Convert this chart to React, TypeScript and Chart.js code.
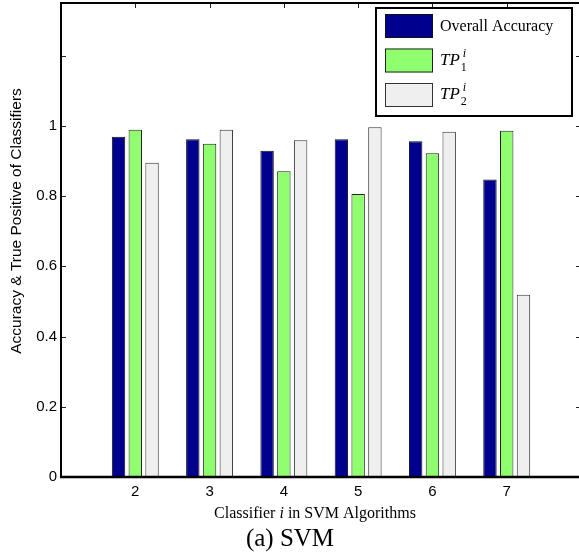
import React, { useEffect, useRef } from 'react';
import { Chart, registerables } from 'chart.js';

Chart.register(...registerables);

const classifiers = [2, 3, 4, 5, 6, 7];
const overallAccuracy = [0.969, 0.962, 0.929, 0.962, 0.956, 0.847];
const tp1 = [0.989, 0.949, 0.871, 0.806, 0.922, 0.986];
const tp2 = [0.895, 0.989, 0.959, 0.996, 0.983, 0.519];
const yTickValues = [0, 0.2, 0.4, 0.6, 0.8, 1, 1.2];
const yLabelledTicks = ['0', '0.2', '0.4', '0.6', '0.8', '1', ''];
const seriesNames = ['Overall Accuracy', 'TP', 'TP'];
const seriesColors = ['#00008F', '#8FFF70', '#EFEFEF'];
const seriesBorders = ['#111111', '#222222', '#333333'];
const seriesSub = ['', '1', '2'];

const SANS = '"Liberation Sans", Arial, sans-serif';
const SERIF = '"Liberation Serif", "Times New Roman", serif';

const decorPlugin = {
  id: 'decor',
  afterDatasetsDraw(chart: any) {
    const ctx = chart.ctx as CanvasRenderingContext2D;
    const { left, right, top, bottom } = chart.chartArea;
    const xs = chart.scales.x;
    const ys = chart.scales.y;
    ctx.save();
    // inward tick marks
    ctx.strokeStyle = '#222';
    ctx.lineWidth = 1;
    ctx.beginPath();
    yTickValues.forEach((v) => {
      const y = Math.round(ys.getPixelForValue(v)) + 0.5;
      ctx.moveTo(left, y);
      ctx.lineTo(left + 5, y);
      ctx.moveTo(right, y);
      ctx.lineTo(right - 5, y);
    });
    classifiers.forEach((c) => {
      const x = Math.round(xs.getPixelForValue(c)) + 0.5;
      ctx.moveTo(x, top);
      ctx.lineTo(x, top + 5);
    });
    ctx.stroke();
    // axes box
    ctx.strokeStyle = '#000';
    ctx.lineWidth = 2;
    ctx.beginPath();
    ctx.moveTo(left, bottom);
    ctx.lineTo(left, top);
    ctx.lineTo(right, top);
    ctx.lineTo(right, bottom);
    ctx.stroke();
    ctx.lineWidth = 2.5;
    ctx.beginPath();
    ctx.moveTo(left - 1, bottom);
    ctx.lineTo(right, bottom);
    ctx.stroke();

    // legend
    const lx = 376, ly = 8, lw = 196, lh = 108;
    ctx.fillStyle = '#fff';
    ctx.fillRect(lx, ly, lw, lh);
    ctx.strokeStyle = '#000';
    ctx.lineWidth = 2;
    ctx.strokeRect(lx, ly, lw, lh);
    const rowTops = [14, 48.5, 83];
    seriesNames.forEach((name, i) => {
      const sy = rowTops[i];
      ctx.fillStyle = seriesColors[i];
      ctx.fillRect(385, sy, 48, 24);
      ctx.strokeStyle = seriesBorders[i];
      ctx.lineWidth = 1;
      ctx.strokeRect(385.5, sy + 0.5, 47, 23);
      ctx.fillStyle = '#000';
      ctx.textBaseline = 'alphabetic';
      ctx.textAlign = 'left';
      const base = sy + 17;
      if (i === 0) {
        ctx.font = `16px ${SERIF}`;
        ctx.fillText(name, 440, base);
      } else {
        ctx.font = `italic 17px ${SERIF}`;
        ctx.fillText(name, 440, base - 1);
        const w = ctx.measureText(name).width;
        ctx.font = `italic 12px ${SERIF}`;
        ctx.fillText('i', 440 + w + 3, base - 9);
        ctx.font = `12px ${SERIF}`;
        ctx.fillText(seriesSub[i], 440 + w + 1, base + 5);
      }
    });

    // y axis title
    ctx.save();
    ctx.translate(17, 221);
    ctx.rotate(-Math.PI / 2);
    ctx.font = `15.5px ${SANS}`;
    ctx.fillStyle = '#000';
    ctx.textAlign = 'center';
    ctx.textBaseline = 'middle';
    ctx.fillText('Accuracy & True Positive of Classifiers', 0, 0);
    ctx.restore();

    // x axis title: "Classifier i in SVM Algorithms"
    ctx.fillStyle = '#000';
    ctx.textBaseline = 'alphabetic';
    ctx.textAlign = 'left';
    const p1 = 'Classifier ';
    const p2 = 'i';
    const p3 = ' in SVM Algorithms';
    ctx.font = `16px ${SERIF}`;
    const w1 = ctx.measureText(p1).width;
    const w3 = ctx.measureText(p3).width;
    ctx.font = `italic 16px ${SERIF}`;
    const w2 = ctx.measureText(p2).width;
    const total = w1 + w2 + w3;
    let tx = 315 - total / 2;
    ctx.font = `16px ${SERIF}`;
    ctx.fillText(p1, tx, 518);
    tx += w1;
    ctx.font = `italic 16px ${SERIF}`;
    ctx.fillText(p2, tx, 518);
    tx += w2;
    ctx.font = `16px ${SERIF}`;
    ctx.fillText(p3, tx, 518);

    // caption
    ctx.font = `25px ${SERIF}`;
    ctx.textAlign = 'center';
    ctx.fillText('(a) SVM', 290, 546);
    ctx.restore();
  },
};

export default function App() {
  const canvasRef = useRef<HTMLCanvasElement | null>(null);

  useEffect(() => {
    if (!canvasRef.current) return;
    const makeData = (vals: number[]) => classifiers.map((c, i) => ({ x: c, y: vals[i] }));
    const allSeries = [overallAccuracy, tp1, tp2];
    const chart = new Chart(canvasRef.current, {
      type: 'bar',
      data: {
        datasets: allSeries.map((vals, i) => ({
          label: seriesNames[i] + seriesSub[i],
          data: makeData(vals),
          backgroundColor: seriesColors[i],
          borderColor: seriesBorders[i],
          borderWidth: 1,
          categoryPercentage: 0.677,
          barPercentage: 0.8,
        })),
      },
      options: {
        responsive: false,
        animation: false,
        devicePixelRatio: 1,
        layout: { padding: { top: 3, right: 1, left: 0, bottom: 0 } },
        plugins: {
          legend: { display: false },
          tooltip: { enabled: false },
        },
        scales: {
          x: {
            type: 'linear',
            min: 1,
            max: 8,
            offset: false,
            grid: { display: false, drawTicks: false, offset: false },
            border: { display: false },
            afterBuildTicks: (scale: any) => {
              scale.ticks = classifiers.map((v) => ({ value: v }));
            },
            afterFit: (scale: any) => {
              scale.height = 80;
              scale.paddingLeft = 0;
              scale.paddingRight = 0;
            },
            ticks: {
              color: '#000',
              font: { family: SANS, size: 15 },
              padding: 6,
              maxRotation: 0,
              autoSkip: false,
              callback: (v: any) => String(v),
            },
          },
          y: {
            type: 'linear',
            min: 0,
            max: 1.35,
            grid: { display: false, drawTicks: false },
            border: { display: false },
            afterBuildTicks: (scale: any) => {
              scale.ticks = yTickValues.map((v) => ({ value: v }));
            },
            afterFit: (scale: any) => {
              scale.width = 61;
              scale.paddingTop = 0;
              scale.paddingBottom = 0;
            },
            ticks: {
              color: '#000',
              font: { family: SANS, size: 15 },
              padding: 4,
              autoSkip: false,
              callback: (_v: any, idx: number) => yLabelledTicks[idx],
            },
          },
        },
      } as any,
      plugins: [decorPlugin],
    });
    return () => chart.destroy();
  }, []);

  return (
    <div
      style={{
        position: 'absolute',
        left: 0,
        top: 0,
        width: 579,
        height: 557,
        overflow: 'hidden',
        background: '#fff',
      }}
    >
      <canvas ref={canvasRef} width={582} height={557} style={{ display: 'block' }} />
    </div>
  );
}
